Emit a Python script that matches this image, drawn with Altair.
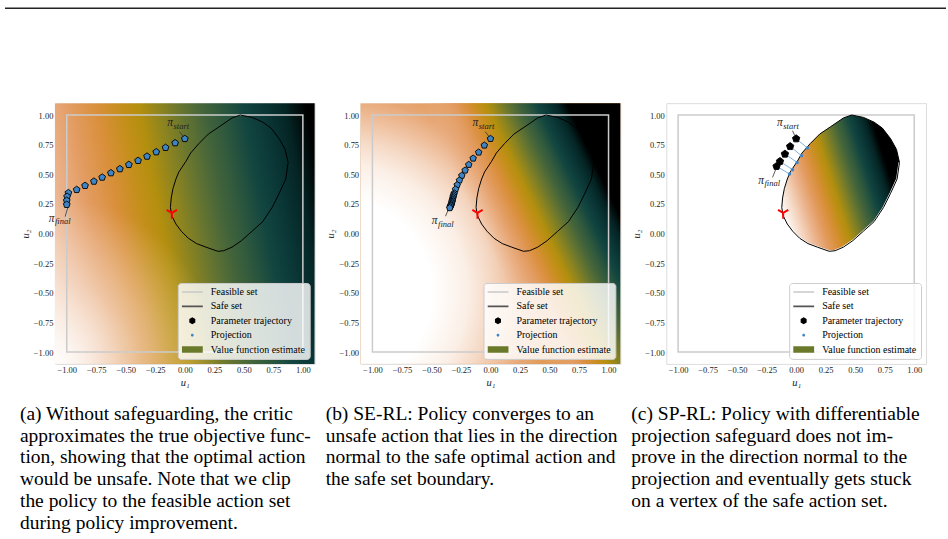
import altair as alt
import pandas as pd

# ---------------- data ----------------
TICKS = [-1.0, -0.75, -0.5, -0.25, 0.0, 0.25, 0.5, 0.75, 1.0]
DOMAIN = [-1.1, 1.1]
FEASIBLE = [-1.0, 1.0]

# safe-set boundary, clockwise from its leftmost vertex
SAFE_U1 = [-0.122, -0.115, -0.10, -0.075, -0.05, 0.01, 0.05, 0.12, 0.20, 0.29, 0.40, 0.47,
           0.57, 0.66, 0.73, 0.80, 0.85, 0.875, 0.855, 0.80, 0.74, 0.66, 0.57, 0.48, 0.40,
           0.33, 0.28, 0.18, 0.10, 0.03, -0.03, -0.075, -0.11, -0.122]
SAFE_U2 = [0.22, 0.30, 0.38, 0.46, 0.52, 0.61, 0.68, 0.76, 0.84, 0.90, 0.975, 1.00,
           0.98, 0.94, 0.89, 0.80, 0.71, 0.60, 0.46, 0.34, 0.22, 0.10, 0.02, -0.06, -0.115,
           -0.145, -0.15, -0.115, -0.085, -0.04, 0.02, 0.08, 0.15, 0.22]

OPT_U1 = [-0.11]
OPT_U2 = [0.175]

TRAJ_A_U1 = [0.0, -0.082, -0.163, -0.242, -0.32, -0.396, -0.474, -0.55, -0.626, -0.70,
             -0.77, -0.845, -0.916, -0.986, -0.997, -1.0, -1.0]
TRAJ_A_U2 = [0.80, 0.764, 0.725, 0.688, 0.651, 0.615, 0.581, 0.545, 0.511, 0.474,
             0.44, 0.404, 0.37, 0.343, 0.312, 0.278, 0.244]

TRAJ_B_U1 = [0.0, -0.052, -0.10, -0.147, -0.184, -0.215, -0.243, -0.263, -0.282, -0.296,
             -0.307, -0.311, -0.315, -0.318, -0.32, -0.323, -0.326, -0.328, -0.33, -0.334,
             -0.337, -0.341, -0.345]
TRAJ_B_U2 = [0.80, 0.744, 0.685, 0.634, 0.581, 0.533, 0.489, 0.449, 0.41, 0.373,
             0.34, 0.327, 0.315, 0.302, 0.29, 0.28, 0.27, 0.26, 0.25, 0.242,
             0.235, 0.225, 0.216]

TRAJ_C_U1 = [0.0, -0.051, -0.095, -0.137, -0.166]
TRAJ_C_U2 = [0.80, 0.735, 0.671, 0.609, 0.567]
PROJ_C_U1 = [0.095, 0.045, 0.008, -0.031, -0.056]
PROJ_C_U2 = [0.722, 0.657, 0.60, 0.539, 0.503]

# annotation anchors (text u1,u2 ; leader from -> to)
ANN_A = [("start", -0.10, 0.905, -0.045, 0.86, -0.01, 0.815),
         ("final", -1.104, 0.10, -1.013, 0.143, -0.99, 0.225)]
ANN_B = [("start", -0.103, 0.905, -0.045, 0.86, -0.01, 0.815),
         ("final", -0.448, 0.08, -0.381, 0.146, -0.356, 0.205)]
ANN_C = [("start", -0.113, 0.905, -0.031, 0.868, -0.012, 0.826),
         ("final", -0.273, 0.42, -0.2, 0.474, -0.174, 0.539)]

# value-function estimate: plane  (v = c0 + c1*u1 + c2*u2, 0=white .. 1=black)
VALUE_A = [0.58175, 0.34, 0.065]
VALUE_B = [0.185, 0.70, 0.33]
VALUE_C = [0.101, 0.95, 0.30]
BOWL_B = [-1.3, -0.5, 2.0]      # low-value basin in panel (b): centre u1, u2, radius
LIGHT_A = [-1.1, -1.1, 1.4]     # pale corner of panel (a)

LEGEND_LABELS = ["Feasible set", "Safe set", "Parameter trajectory", "Projection",
                 "Value function estimate"]

CAPTION_A = ["(a) Without safeguarding, the critic",
             "approximates the true objective func-",
             "tion, showing that the optimal action",
             "would be unsafe.  Note that we clip",
             "the policy to the feasible action set",
             "during policy improvement."]
CAPTION_B = ["(b) SE-RL:  Policy converges to an",
             "unsafe action that lies in the direction",
             "normal to the safe optimal action and",
             "the safe set boundary."]
CAPTION_C = ["(c) SP-RL: Policy with differentiable",
             "projection  safeguard  does  not  im-",
             "prove in the direction normal to the",
             "projection and eventually gets stuck",
             "on a vertex of the safe action set."]

# ---------------- styles / layout ----------------
SERIF = "Liberation Serif"
CMAP = [(0.00, "#ffffff"), (0.08, "#fbefe6"), (0.16, "#f3d2bb"), (0.24, "#ebb48e"),
        (0.32, "#e39c62"), (0.40, "#d98f3a"), (0.47, "#c48f1a"), (0.52, "#b38f0e"),
        (0.58, "#8c8420"), (0.64, "#667530"), (0.70, "#45653a"), (0.76, "#2c573e"),
        (0.82, "#124540"), (0.88, "#0a3636"), (0.94, "#052424"), (1.00, "#000000")]
BLUE = "#3d85c6"
PENT = "M0,-1L0.951,-0.309L0.588,0.809L-0.588,0.809L-0.951,-0.309Z"
TRI = "M0,0L0,1M0,0L-0.87,-0.5M0,0L0.87,-0.5"
LEG_SHAPES = ["M-1,-0.075L1,-0.075L1,0.075L-1,0.075Z",
              "M-1,-0.075L1,-0.075L1,0.075L-1,0.075Z",
              "M0,-0.33L0.286,-0.165L0.286,0.165L0,0.33L-0.286,0.165L-0.286,-0.165Z",
              "M0.13,0A0.13,0.13,0,1,1,-0.13,0A0.13,0.13,0,1,1,0.13,0Z",
              "M-1,-0.3L1,-0.3L1,0.3L-1,0.3Z"]
LEG_COLORS = ["#c8c8c8", "#555555", "#000000", BLUE, "#6b7a2a"]

PW, PH = 260, 261
PANEL_GAP = 46
CAP_DX, CAP_DY, CAP_LH = -35, 317, 21.8     # caption offset from each plot's top-left
RULE_X0, RULE_X1, RULE_Y = -50, 892, -95    # top rule, relative to first plot's top-left


def stops(cmap):
    return [alt.GradientStop(offset=o, color=c) for o, c in cmap]


def lin_grad(plane, xmin, xmax, ymin, ymax, st):
    c0, cx, cy = plane
    W, H = xmax - xmin, ymax - ymin
    k = c0 + cx * xmin + cy * ymax
    a, b = cx * W, -cy * H
    n2 = a * a + b * b
    return alt.LinearGradient(gradient="linear", stops=st,
                              x1=-k * a / n2, y1=-k * b / n2,
                              x2=(1 - k) * a / n2, y2=(1 - k) * b / n2)


def rad_grad(cu1, cu2, R, st):
    span = DOMAIN[1] - DOMAIN[0]
    cx = (cu1 - DOMAIN[0]) / span
    cy = (DOMAIN[1] - cu2) / span
    return alt.RadialGradient(gradient="radial", stops=st, x1=cx, y1=cy, r1=0,
                              x2=cx, y2=cy, r2=R / span)


SC = alt.Scale(domain=DOMAIN, nice=False, zero=False)
AXC = dict(values=TICKS, format=".2f", labelFont=SERIF, labelFontSize=8.5, labelColor="#222",
           labelPadding=2, ticks=False, domain=False, grid=False, titleFont=SERIF,
           titleFontSize=10.5, titleFontStyle="italic", titleFontWeight="normal",
           titlePadding=3, titleColor="#222")
AX_X = alt.Axis(title="u₁", **AXC)
AX_Y = alt.Axis(title="u₂", **AXC)


def X(f):
    return alt.X(f, type="quantitative", scale=SC, axis=AX_X)


def Y(f):
    return alt.Y(f, type="quantitative", scale=SC, axis=AX_Y)


one = pd.DataFrame({"k": [0]})
box = pd.DataFrame({"x0": [DOMAIN[0]], "x1": [DOMAIN[1]], "y0": [DOMAIN[0]], "y1": [DOMAIN[1]]})
feas = pd.DataFrame({"x0": [FEASIBLE[0]], "x1": [FEASIBLE[1]], "y0": [FEASIBLE[0]], "y1": [FEASIBLE[1]]})
safe = pd.DataFrame({"u1": SAFE_U1, "u2": SAFE_U2, "i": list(range(len(SAFE_U1)))})
r_i = SAFE_U1.index(max(SAFE_U1))
upper = pd.DataFrame({"u1": SAFE_U1[:r_i + 1], "u2": SAFE_U2[:r_i + 1]})
lower = pd.DataFrame({"u1": SAFE_U1[r_i:], "u2": SAFE_U2[r_i:]})
opt = pd.DataFrame({"u1": OPT_U1, "u2": OPT_U2})
legdf = pd.DataFrame({"label": LEGEND_LABELS})

LEG = alt.Legend(title=None, orient="bottom-right", offset=5, padding=4,
                 fillColor="rgba(255,255,255,0.82)", strokeColor="#cccccc", cornerRadius=3,
                 labelFont=SERIF, labelFontSize=10, labelColor="black", symbolSize=441,
                 clipHeight=10, rowPadding=4.4, labelOffset=8, symbolStrokeWidth=0)


def rect_layer(grad):
    return alt.Chart(box).mark_rect(fill=grad).encode(
        x=X("x0"), x2="x1", y=Y("y0"), y2="y1")


def common_front(ann):
    ann_df = pd.DataFrame(ann, columns=["sub", "tx", "ty", "lx0", "ly0", "lx1", "ly1"])
    return [
        alt.Chart(safe).mark_line(color="black", strokeWidth=1).encode(
            x=X("u1"), y=Y("u2"), order="i:Q"),
        alt.Chart(ann_df).mark_rule(color="#333333", strokeWidth=0.8).encode(
            x=X("lx0"), y=Y("ly0"), x2="lx1", y2="ly1"),
        alt.Chart(ann_df).mark_text(text="π", align="right", baseline="alphabetic",
                                    font=SERIF, fontSize=11.5, fontStyle="italic",
                                    color="#222").encode(x=X("tx"), y=Y("ty")),
        alt.Chart(ann_df).mark_text(align="left", baseline="alphabetic", dx=0.5, dy=2.5,
                                    font=SERIF, fontSize=8.5, fontStyle="italic",
                                    color="#222").encode(x=X("tx"), y=Y("ty"), text="sub:N"),
    ]


def feas_layer():
    return alt.Chart(feas).mark_rect(fill="transparent", stroke="#cbcbcb", strokeWidth=1.5).encode(
        x=X("x0"), x2="x1", y=Y("y0"), y2="y1")


def opt_layer():
    return alt.Chart(opt).mark_point(shape=TRI, filled=False, color="red", strokeWidth=2,
                                     size=140, opacity=1).encode(x=X("u1"), y=Y("u2"))


def legend_layer():
    return alt.Chart(legdf).mark_point(filled=True, size=0, opacity=1).encode(
        color=alt.Color("label:N", scale=alt.Scale(domain=LEGEND_LABELS, range=LEG_COLORS), legend=LEG),
        shape=alt.Shape("label:N", scale=alt.Scale(domain=LEGEND_LABELS, range=LEG_SHAPES), legend=LEG))


def traj_layer(u1, u2, fill, size):
    df = pd.DataFrame({"u1": u1, "u2": u2})
    return alt.Chart(df).mark_point(shape=PENT, filled=True, fill=fill, stroke="black",
                                    strokeWidth=0.9, size=size, opacity=1).encode(
        x=X("u1"), y=Y("u2"))


def caption_layer(lines):
    return alt.Chart(one).mark_text(text=lines, align="left", baseline="alphabetic",
                                    font=SERIF, fontSize=19.5, lineHeight=CAP_LH,
                                    color="black").encode(x=alt.value(CAP_DX), y=alt.value(CAP_DY))


# ---- panel (a)
ga = lin_grad(VALUE_A, DOMAIN[0], DOMAIN[1], DOMAIN[0], DOMAIN[1], stops(CMAP))
wa = rad_grad(LIGHT_A[0], LIGHT_A[1], LIGHT_A[2],
              [alt.GradientStop(offset=0, color="rgba(255,255,255,0.95)"),
               alt.GradientStop(offset=0.5, color="rgba(255,255,255,0.4)"),
               alt.GradientStop(offset=1, color="rgba(255,255,255,0)")])
top_rule = alt.Chart(one).mark_rule(color="#222222", strokeWidth=1.5).encode(
    x=alt.value(RULE_X0), x2=alt.value(RULE_X1), y=alt.value(RULE_Y))
pa_layers = [rect_layer(ga), rect_layer(wa), feas_layer()] + common_front(ANN_A)
pa_layers += [traj_layer(TRAJ_A_U1, TRAJ_A_U2, BLUE, 50), opt_layer(), legend_layer(),
              top_rule, caption_layer(CAPTION_A)]
pa = alt.layer(*pa_layers).properties(width=PW, height=PH)

# ---- panel (b)
bowl = rad_grad(BOWL_B[0], BOWL_B[1], BOWL_B[2],
                [alt.GradientStop(offset=0, color="#ffffff"),
                 alt.GradientStop(offset=0.40, color="#ffffff"),
                 alt.GradientStop(offset=0.55, color="#fbefe6"),
                 alt.GradientStop(offset=0.65, color="#f5d9c5"),
                 alt.GradientStop(offset=0.75, color="#eebd99"),
                 alt.GradientStop(offset=0.83, color="#e7a775"),
                 alt.GradientStop(offset=1.0, color="#dc9140")])
b_st = [alt.GradientStop(offset=0.14, color="rgba(235,180,142,0)")] + \
       [alt.GradientStop(offset=o, color=c) for o, c in CMAP if o >= 0.3]
gb = lin_grad(VALUE_B, DOMAIN[0], DOMAIN[1], DOMAIN[0], DOMAIN[1], b_st)
pb_layers = [rect_layer(bowl), rect_layer(gb), feas_layer()] + common_front(ANN_B)
pb_layers += [traj_layer(TRAJ_B_U1, TRAJ_B_U2, BLUE, 46), opt_layer(), legend_layer(),
              caption_layer(CAPTION_B)]
pb = alt.layer(*pb_layers).properties(width=PW, height=PH)

# ---- panel (c)
smin = min(SAFE_U2)
gc = lin_grad(VALUE_C, min(SAFE_U1), max(SAFE_U1), smin, max(SAFE_U2), stops(CMAP))
blob = alt.Chart(upper).mark_area(fill=gc, opacity=1).encode(
    x=X("u1"), y=Y("u2"), y2=alt.datum(smin))
mask = alt.Chart(lower).mark_area(fill="white", stroke="white", strokeWidth=2, opacity=1).encode(
    x=X("u1"), y=Y("u2"), y2=alt.datum(smin - 0.02))
proj_lines = pd.DataFrame({"a": TRAJ_C_U1, "b": TRAJ_C_U2, "c": PROJ_C_U1, "d": PROJ_C_U2})
pc_layers = [feas_layer(), blob, mask] + common_front(ANN_C)
pc_layers += [alt.Chart(proj_lines).mark_rule(color="#7fb0dd", strokeWidth=1).encode(
                  x=X("a"), y=Y("b"), x2="c", y2="d"),
              traj_layer(TRAJ_C_U1, TRAJ_C_U2, "black", 60),
              alt.Chart(pd.DataFrame({"u1": PROJ_C_U1, "u2": PROJ_C_U2})).mark_circle(
                  color=BLUE, size=12, opacity=1).encode(x=X("u1"), y=Y("u2")),
              opt_layer(), legend_layer(), caption_layer(CAPTION_C)]
pc = alt.layer(*pc_layers).properties(width=PW, height=PH)

chart = alt.hconcat(pa, pb, pc, spacing=PANEL_GAP, bounds="flush").resolve_scale(
    color="independent", shape="independent", x="independent", y="independent").resolve_legend(
    color="independent", shape="independent").properties(
    padding={"left": 3, "top": 6, "right": 0, "bottom": 0}
).configure_view(stroke="#cccccc", strokeWidth=1).configure(background="white")

chart.save("out.html", embed_options={"renderer": "svg", "actions": False})
